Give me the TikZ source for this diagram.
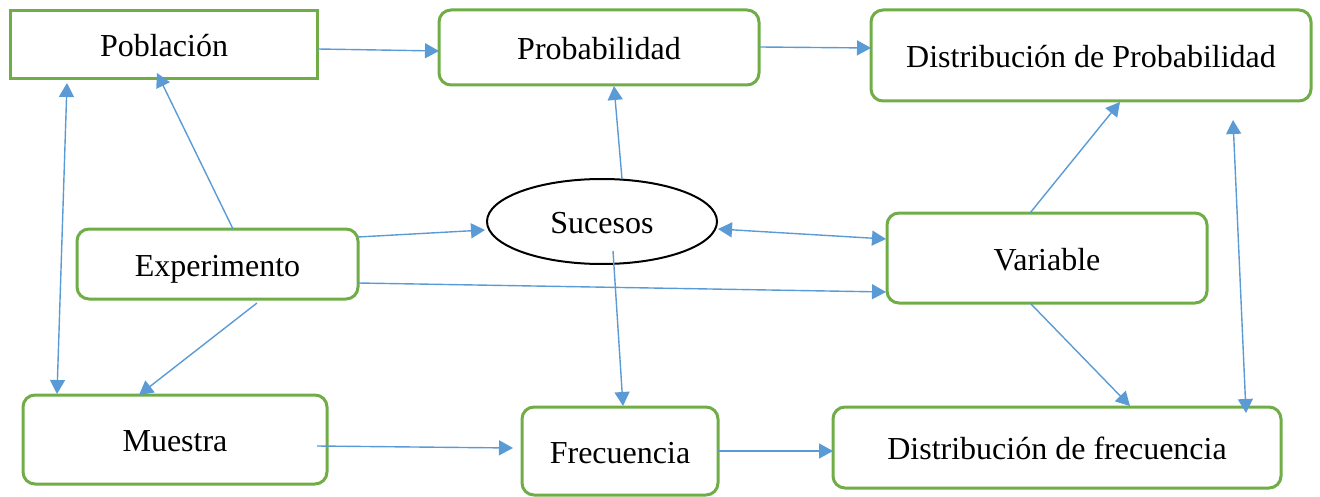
\documentclass[tikz,border=0pt]{standalone}
\usepackage{fontspec}
\setmainfont{Liberation Serif}
\usetikzlibrary{arrows.meta,shapes.geometric,calc}
\definecolor{boxgreen}{RGB}{112,173,71}
\definecolor{arrblue}{RGB}{91,155,213}
\begin{document}
\begin{tikzpicture}[x=0.5pt,y=-0.5pt,
  txt/.style={font=\fontsize{16}{19}\selectfont,text height=15.5pt,text depth=3.5pt,inner sep=0pt,fill=white},
  box/.style={txt,draw=boxgreen,line width=1.5pt,rounded corners=6pt},
  sqbox/.style={box,rounded corners=0pt},
  oval/.style={txt,draw=black,line width=1pt,ellipse},
  conn/.style={draw=arrblue,line width=0.7pt,-{Triangle[length=7pt,width=7.5pt]}},
  dconn/.style={draw=arrblue,line width=0.7pt,{Triangle[length=7pt,width=7.5pt]}-{Triangle[length=7pt,width=7.5pt]}}]
\useasboundingbox (0,0) rectangle (1320,497);
\node[sqbox,minimum width=153.5pt,minimum height=34pt] (pob) at (164,45) {Población};
\node[box,minimum width=160pt,minimum height=37.5pt] (prob) at (599,47.5) {Probabilidad};
\node[box,minimum width=220pt,minimum height=45.5pt] (dprob) at (1091,55.5) {Distribución de Probabilidad};
\node[oval,minimum width=115pt,minimum height=42.5pt] (suc) at (602,221.5) {Sucesos};
\node[box,minimum width=140.5pt,minimum height=35pt] (exp) at (217.5,264) {Experimento};
\node[box,minimum width=160pt,minimum height=45pt] (var) at (1047,258) {Variable};
\node[box,minimum width=152pt,minimum height=44.5pt] (mue) at (175,439.5) {Muestra};
\node[box,minimum width=98pt,minimum height=44pt] (frec) at (620,451) {Frecuencia};
\node[box,minimum width=224pt,minimum height=40.5pt] (dfrec) at (1057,447.5) {Distribución de frecuencia};
% connectors
\draw[conn] ($(pob)+(154,4)$) -- ($(prob)+(-160,3.5)$);
\draw[conn] ($(prob)+(161,-0.5)$) -- ($(dprob)+(-220,-7.5)$);
\draw[conn] ($(exp)+(15.5,-35)$) -- ($(pob)+(-7,28)$);
\draw[dconn] ($(pob)+(-97,38)$) -- ($(mue)+(-118,-45.5)$);
\draw[conn] ($(exp)+(140.5,-27)$) -- ($(suc)+(-117,8.5)$);
\draw[conn] ($(exp)+(140.5,19)$) -- ($(var)+(-161,34)$);
\draw[conn] ($(exp)+(39.5,39)$) -- ($(mue)+(-36,-44.5)$);
\draw[conn] ($(suc)+(20,-42.5)$) -- ($(prob)+(15,38.5)$);
\draw[dconn] ($(suc)+(116,7.5)$) -- ($(var)+(-161,-19)$);
\draw[conn] ($(suc)+(11,29.5)$) -- ($(frec)+(3,-45)$);
\draw[conn] ($(var)+(-17,-45)$) -- ($(dprob)+(29,46.5)$);
\draw[conn] ($(var)+(-17,45)$) -- ($(dfrec)+(73,-41.5)$);
\draw[dconn] ($(dprob)+(142,64.5)$) -- ($(dfrec)+(189,-34.5)$);
\draw[conn] ($(mue)+(142,6.5)$) -- ($(frec)+(-107,-3)$);
\draw[conn] ($(frec)+(98,0)$) -- ($(dfrec)+(-224,3.5)$);
\end{tikzpicture}
\end{document}
